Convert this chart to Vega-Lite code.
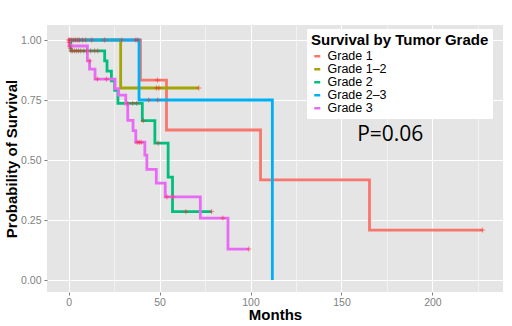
{
  "$schema": "https://vega.github.io/schema/vega-lite/v6.json",
  "width": 456,
  "height": 267,
  "autosize": {"type": "none"},
  "padding": {"left": 47, "top": 25, "right": 9, "bottom": 34},
  "background": "white",
  "config": {
    "view": {"fill": "#E5E5E5", "stroke": null},
    "font": "Liberation Sans",
    "axis": {
      "domain": false,
      "tickSize": 3,
      "tickColor": "#7F7F7F",
      "labelColor": "#7F7F7F",
      "labelFontSize": 10.5,
      "labelFont": "Liberation Sans",
      "titleFont": "Liberation Sans",
      "titleFontSize": 15,
      "titleFontWeight": "bold",
      "titleColor": "black",
      "gridWidth": 1
    }
  },
  "datasets": {
    "curves": [
      {"grade": "Grade 1", "month": 0, "surv": 1},
      {"grade": "Grade 1", "month": 39.5, "surv": 0.833},
      {"grade": "Grade 1", "month": 53.8, "surv": 0.625},
      {"grade": "Grade 1", "month": 105.5, "surv": 0.417},
      {"grade": "Grade 1", "month": 165.4, "surv": 0.208},
      {"grade": "Grade 1", "month": 227.6, "surv": 0.208},
      {"grade": "Grade 1–2", "month": 0, "surv": 1},
      {"grade": "Grade 1–2", "month": 28.6, "surv": 0.8},
      {"grade": "Grade 1–2", "month": 71.6, "surv": 0.8},
      {"grade": "Grade 2", "month": 0, "surv": 1},
      {"grade": "Grade 2", "month": 1.2, "surv": 0.955},
      {"grade": "Grade 2", "month": 19.8, "surv": 0.913},
      {"grade": "Grade 2", "month": 21.1, "surv": 0.87},
      {"grade": "Grade 2", "month": 23.5, "surv": 0.83},
      {"grade": "Grade 2", "month": 25.3, "surv": 0.79},
      {"grade": "Grade 2", "month": 27.1, "surv": 0.736},
      {"grade": "Grade 2", "month": 40.5, "surv": 0.664},
      {"grade": "Grade 2", "month": 47.4, "surv": 0.57},
      {"grade": "Grade 2", "month": 54.7, "surv": 0.429},
      {"grade": "Grade 2", "month": 57.1, "surv": 0.285},
      {"grade": "Grade 2", "month": 78.6, "surv": 0.285},
      {"grade": "Grade 2–3", "month": 0, "surv": 1},
      {"grade": "Grade 2–3", "month": 38.7, "surv": 0.75},
      {"grade": "Grade 2–3", "month": 112, "surv": 0},
      {"grade": "Grade 3", "month": 0, "surv": 1},
      {"grade": "Grade 3", "month": 0.3, "surv": 0.975},
      {"grade": "Grade 3", "month": 10.3, "surv": 0.913},
      {"grade": "Grade 3", "month": 11.5, "surv": 0.879},
      {"grade": "Grade 3", "month": 14.5, "surv": 0.837},
      {"grade": "Grade 3", "month": 25.5, "surv": 0.797},
      {"grade": "Grade 3", "month": 27.5, "surv": 0.77},
      {"grade": "Grade 3", "month": 31.4, "surv": 0.733},
      {"grade": "Grade 3", "month": 32.5, "surv": 0.665},
      {"grade": "Grade 3", "month": 35.4, "surv": 0.622},
      {"grade": "Grade 3", "month": 36.9, "surv": 0.574},
      {"grade": "Grade 3", "month": 41.9, "surv": 0.52},
      {"grade": "Grade 3", "month": 43, "surv": 0.461},
      {"grade": "Grade 3", "month": 48.2, "surv": 0.404},
      {"grade": "Grade 3", "month": 53.1, "surv": 0.346},
      {"grade": "Grade 3", "month": 72.4, "surv": 0.258},
      {"grade": "Grade 3", "month": 87.6, "surv": 0.129},
      {"grade": "Grade 3", "month": 99.1, "surv": 0.129}
    ],
    "censor": [
      {"month": 0, "surv": 1}, {"month": 0.3, "surv": 0.99}, {"month": 0.6, "surv": 0.975},
      {"month": 1, "surv": 0.965}, {"month": 1.3, "surv": 0.955},
      {"month": 0.5, "surv": 1}, {"month": 1.7, "surv": 1}, {"month": 2.8, "surv": 1},
      {"month": 3.9, "surv": 1}, {"month": 5, "surv": 1}, {"month": 6, "surv": 1},
      {"month": 7.7, "surv": 1}, {"month": 9.4, "surv": 1}, {"month": 12.7, "surv": 1},
      {"month": 19.8, "surv": 1}, {"month": 29.2, "surv": 1}, {"month": 36.9, "surv": 1},
      {"month": 38, "surv": 1},
      {"month": 2.2, "surv": 0.955}, {"month": 3.3, "surv": 0.955}, {"month": 4.4, "surv": 0.955},
      {"month": 5.5, "surv": 0.955}, {"month": 6.6, "surv": 0.955}, {"month": 8.3, "surv": 0.955},
      {"month": 9.9, "surv": 0.955}, {"month": 12.1, "surv": 0.955}, {"month": 14.3, "surv": 0.955},
      {"month": 16, "surv": 0.955},
      {"month": 11.6, "surv": 0.913}, {"month": 15.8, "surv": 0.837}, {"month": 20.8, "surv": 0.837},
      {"month": 48.3, "surv": 0.8}, {"month": 49.6, "surv": 0.8}, {"month": 71.6, "surv": 0.8},
      {"month": 48.8, "surv": 0.833},
      {"month": 44, "surv": 0.75}, {"month": 49, "surv": 0.75},
      {"month": 32.5, "surv": 0.736}, {"month": 35.2, "surv": 0.736}, {"month": 37.4, "surv": 0.736},
      {"month": 41, "surv": 0.664}, {"month": 49.2, "surv": 0.57},
      {"month": 64.4, "surv": 0.285}, {"month": 78.6, "surv": 0.285},
      {"month": 37.7, "surv": 0.574}, {"month": 38.8, "surv": 0.574}, {"month": 39.9, "surv": 0.574},
      {"month": 54, "surv": 0.346}, {"month": 57.3, "surv": 0.346},
      {"month": 84.8, "surv": 0.258}, {"month": 99.1, "surv": 0.129},
      {"month": 227.6, "surv": 0.208}
    ],
    "note": [{"month": 176.8, "surv": 0.581, "label": "P=0.06"}]
  },
  "layer": [
    {
      "data": {"name": "curves"},
      "mark": {"type": "line", "interpolate": "step-after", "strokeWidth": 2.8},
      "encoding": {
        "x": {
          "field": "month", "type": "quantitative",
          "scale": {"domain": [-11.9, 238.8], "nice": false, "zero": false},
          "axis": {
            "title": "Months",
            "values": [0, 25, 50, 75, 100, 125, 150, 175, 200, 225],
            "format": "d",
            "labelExpr": "datum.value % 50 === 0 ? datum.label : ''",
            "gridColor": {"condition": {"test": "datum.value % 50 === 0", "value": "white"}, "value": "#F2F2F2"},
            "tickOpacity": {"condition": {"test": "datum.value % 50 === 0", "value": 1}, "value": 0},
            "labelPadding": 2,
            "titlePadding": 0
          }
        },
        "y": {
          "field": "surv", "type": "quantitative",
          "scale": {"domain": [-0.05, 1.0625], "nice": false, "zero": false},
          "axis": {
            "title": "Probability of Survival",
            "values": [0, 0.125, 0.25, 0.375, 0.5, 0.625, 0.75, 0.875, 1],
            "format": ".2f",
            "labelExpr": "abs(datum.value * 4 - round(datum.value * 4)) < 0.001 ? datum.label : ''",
            "gridColor": {"condition": {"test": "abs(datum.value * 4 - round(datum.value * 4)) < 0.001", "value": "white"}, "value": "#F2F2F2"},
            "tickOpacity": {"condition": {"test": "abs(datum.value * 4 - round(datum.value * 4)) < 0.001", "value": 1}, "value": 0},
            "labelPadding": 3,
            "titlePadding": 1
          }
        },
        "color": {
          "field": "grade", "type": "nominal",
          "scale": {
            "domain": ["Grade 1", "Grade 1–2", "Grade 2", "Grade 2–3", "Grade 3"],
            "range": ["#F8766D", "#A3A500", "#00BF7D", "#00B0F6", "#E76BF3"]
          },
          "legend": {
            "title": "Survival by Tumor Grade",
            "orient": "none",
            "legendX": 260,
            "legendY": 4,
            "fillColor": "white",
            "padding": 4,
            "titleFontSize": 15,
            "titleFontWeight": "bold",
            "titleColor": "black",
            "titlePadding": 2,
            "labelFontSize": 12.5,
            "labelColor": "black",
            "symbolType": "stroke",
            "symbolSize": 36,
            "symbolStrokeWidth": 2.5,
            "rowPadding": -3.5,
            "labelOffset": 4
          }
        }
      }
    },
    {
      "data": {"name": "censor"},
      "mark": {"type": "point", "shape": "M-1,0L1,0M0,-1L0,1", "size": 25, "stroke": "#FF2020", "strokeWidth": 1, "opacity": 0.55, "filled": false},
      "encoding": {
        "x": {"field": "month", "type": "quantitative"},
        "y": {"field": "surv", "type": "quantitative"}
      }
    },
    {
      "data": {"name": "note"},
      "mark": {"type": "text", "font": "Open Sans", "fontSize": 21, "align": "center", "baseline": "alphabetic", "color": "black"},
      "encoding": {
        "x": {"field": "month", "type": "quantitative"},
        "y": {"field": "surv", "type": "quantitative"},
        "text": {"field": "label"}
      }
    }
  ]
}
